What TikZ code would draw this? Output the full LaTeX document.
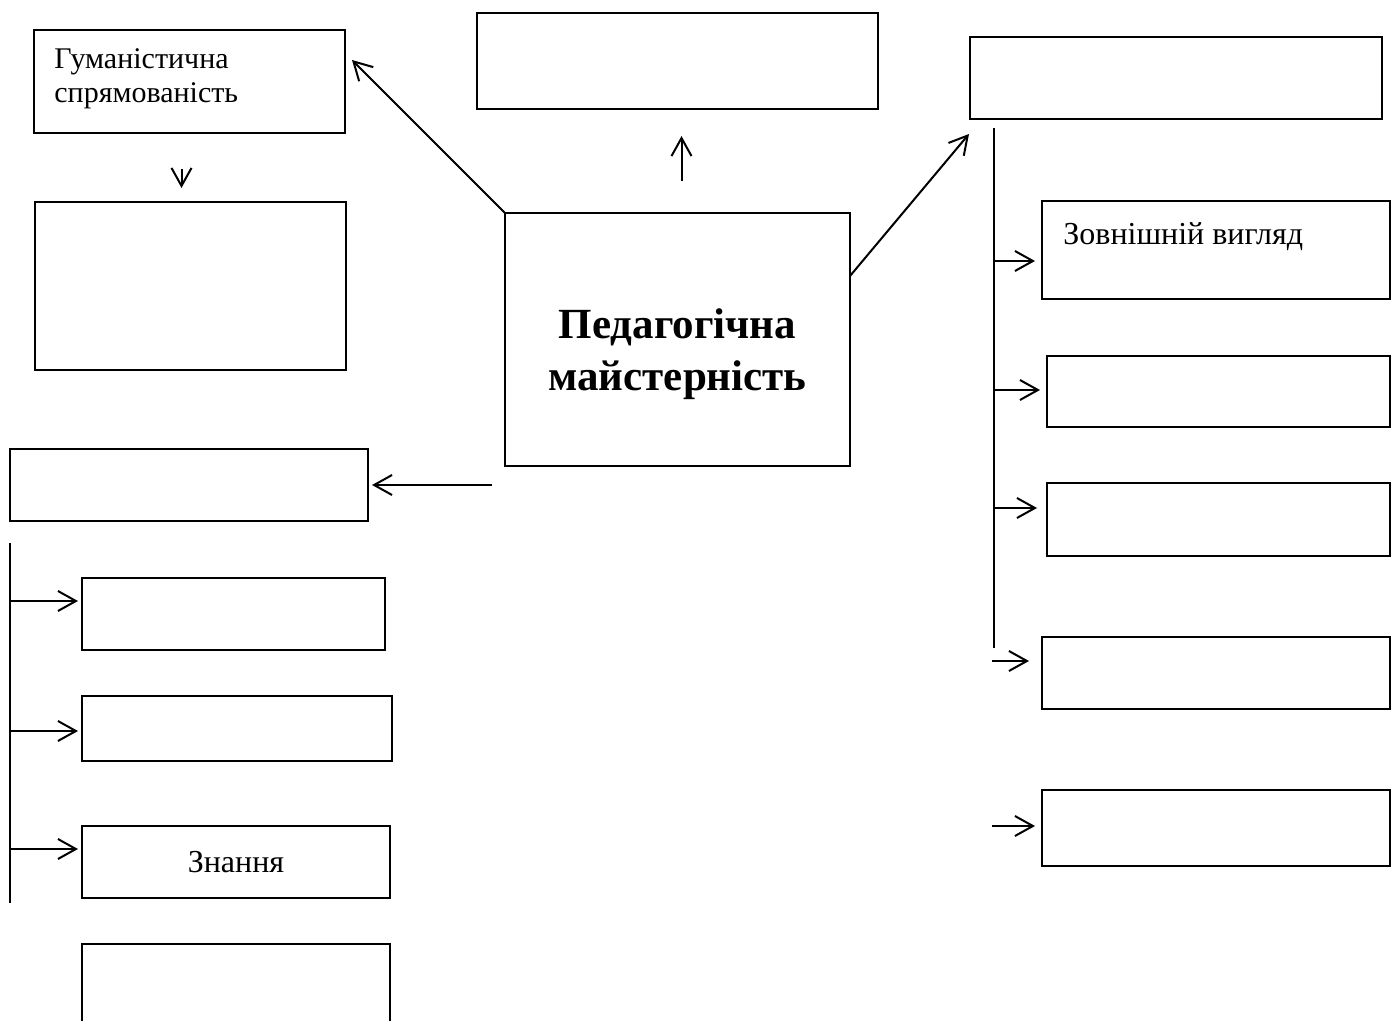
\documentclass[tikz,border=0pt]{standalone}
\usepackage{fontspec}
\setmainfont{Liberation Serif}
\usetikzlibrary{arrows.meta,positioning,calc}

\begin{document}
\begin{tikzpicture}[x=0.5pt, y=-0.5pt,
    box/.style={draw, rectangle, line width=1pt, anchor=north west, inner sep=0pt, outer sep=0pt},
    arr/.style={-{Straight Barb[length=9pt,width=10pt]}, line width=1pt},
    txt/.style={font=\fontsize{16}{16}\selectfont, inner sep=0pt}]
    \useasboundingbox (0,0) rectangle (1392,1021);

    % centre
    \node [box, minimum width=172.5pt, minimum height=126.5pt] (core) at (505,213) {};
    \node [txt, font=\bfseries\fontsize{21.5}{26}\selectfont, align=center, anchor=base] (coretxt) at (677.5,391) {Педагогічна\\майстерність};
    \node [box, minimum width=200.5pt, minimum height=48pt] (top) at (477,13) {};

    % left column
    \node [box, minimum width=155.5pt, minimum height=51.5pt] (hum) at (34,30) {};
    \node [txt, font=\fontsize{15}{17}\selectfont, align=left, anchor=base west] (humtxt) at (54,103) {Гуманістична\\спрямованість};
    \node [box, minimum width=155.5pt, minimum height=84pt] (humsub) at (35,202) {};
    \node [box, minimum width=179pt, minimum height=36pt] (left) at (10,449) {};
    \node [box, minimum width=151.5pt, minimum height=36pt] (lb1) at (82,578) {};
    \node [box, minimum width=155pt, minimum height=32.5pt] (lb2) at (82,696) {};
    \node [box, txt, minimum width=154pt, minimum height=36pt] (lb3) at (82,826) {Знання};
    \node [box, minimum width=154pt, minimum height=45pt] (lb4) at (82,944) {};

    % right column
    \node [box, minimum width=206pt, minimum height=41pt] (right) at (970,37) {};
    \node [box, minimum width=174pt, minimum height=49pt] (rb1) at (1042,201) {};
    \node [txt, anchor=base west] (rb1txt) at (1063,245) {Зовнішній вигляд};
    \node [box, minimum width=171.5pt, minimum height=35.5pt] (rb2) at (1047,356) {};
    \node [box, minimum width=171.5pt, minimum height=36.5pt] (rb3) at (1047,483) {};
    \node [box, minimum width=174pt, minimum height=36pt] (rb4) at (1042,637) {};
    \node [box, minimum width=174pt, minimum height=38pt] (rb5) at (1042,790) {};

    % free ends
    \coordinate (humtip) at (352,60);
    \coordinate (righttip) at (969,134);
    \coordinate (leftstart) at (492,485);
    \coordinate (rbus) at (994,128);
    \coordinate (rbusend) at (994,648);
    \coordinate (lbus) at (10,543);
    \coordinate (lbusend) at (10,903);

    % arrows from the centre
    \draw [arr] (core.north west) -- (humtip);
    \draw [arr] ([xshift=2pt]core.north) ++(0,-32) -- ++(0,-45) coordinate (uptip);
    \draw [arr] ([yshift=-31.5pt]core.north east) -- (righttip);
    \draw [arr] (leftstart) -- ([xshift=2pt]left.east);
    \draw [arr] ([xshift=-4pt]hum.south) ++(0,36) -- ++(0,19) coordinate (downtip);

    % right bus
    \draw [line width=1pt] (rbus) -- (rbusend);
    \draw [arr] (rbus |- 0,261) -- ([xshift=-3.5pt]rb1.west |- 0,261);
    \draw [arr] (rbus |- 0,390) -- ([xshift=-3.5pt]rb2.west |- 0,390);
    \draw [arr] (rbus |- 0,508) -- ([xshift=-5pt]rb3.west |- 0,508);
    \draw [arr] ([xshift=-1pt]rbus |- 0,661) -- ([xshift=-6.5pt]rb4.west |- 0,661);
    \draw [arr] ([xshift=-1pt]rbus |- 0,826) -- ([xshift=-3.5pt]rb5.west |- 0,826);

    % left bus
    \draw [line width=1pt] (lbus) -- (lbusend);
    \draw [arr] (lbus |- 0,601) -- ([xshift=-2pt]lb1.west |- 0,601);
    \draw [arr] (lbus |- 0,731) -- ([xshift=-2pt]lb2.west |- 0,731);
    \draw [arr] (lbus |- 0,849) -- ([xshift=-2pt]lb3.west |- 0,849);
\end{tikzpicture}
\end{document}
